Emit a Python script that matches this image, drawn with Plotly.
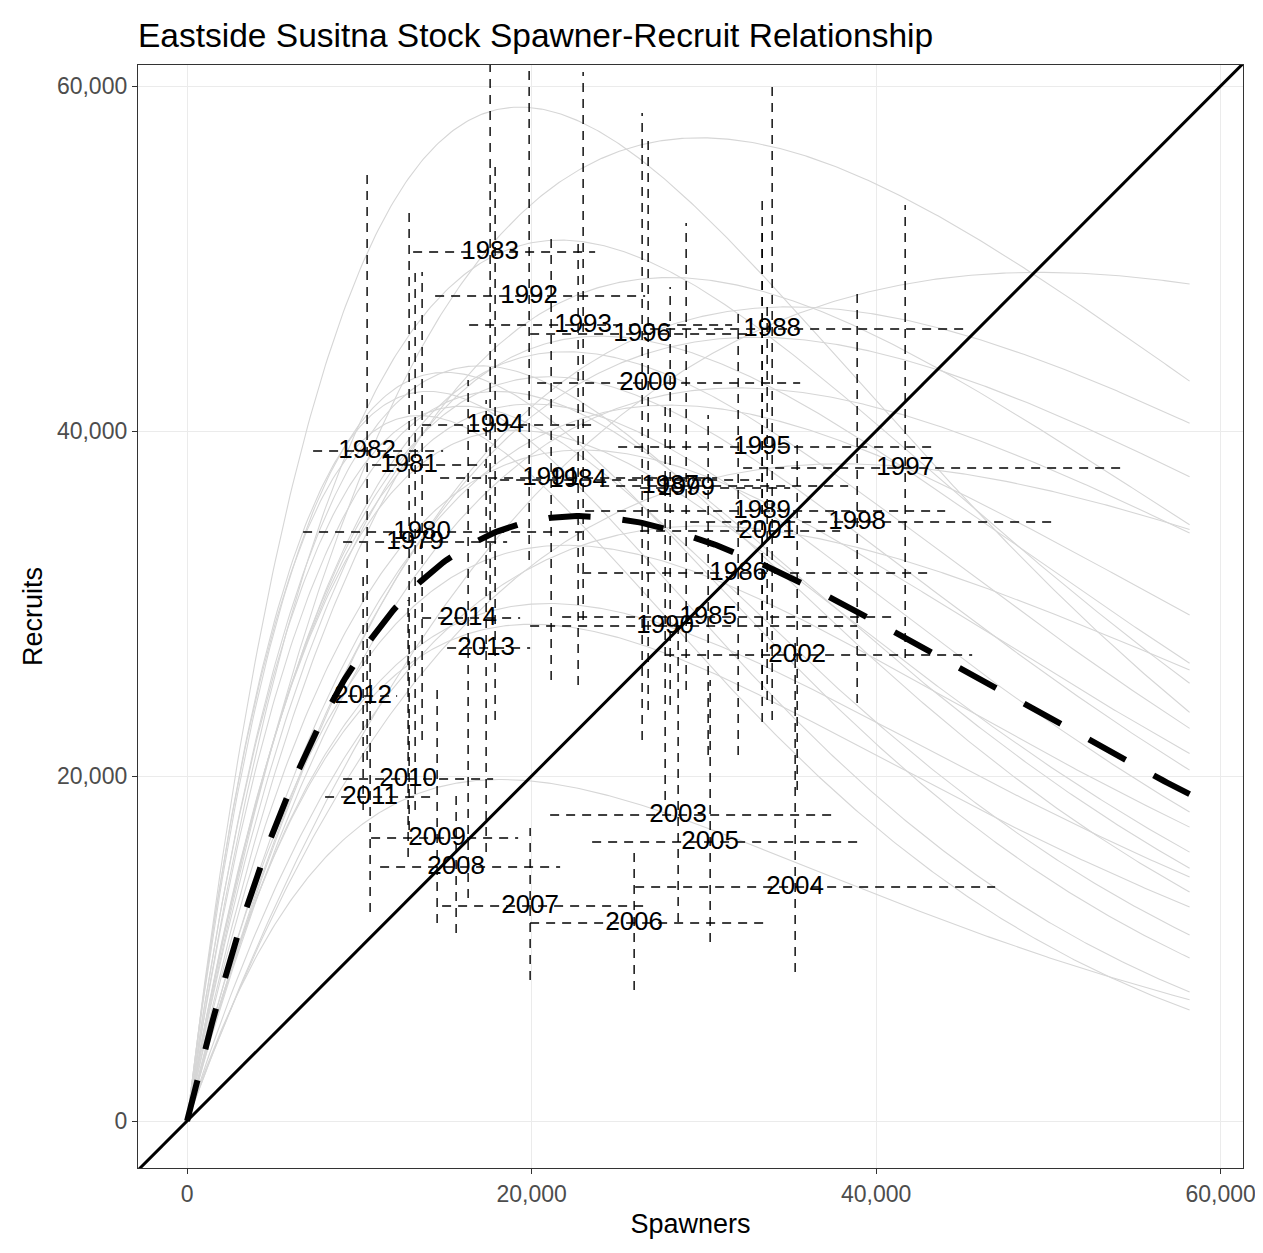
import numpy as np
import plotly.graph_objects as go

# ---------------- data ----------------
years = [1979, 1980, 1981, 1982, 1983, 1984, 1985, 1986, 1987, 1988, 1989, 1990,
         1991, 1992, 1993, 1994, 1995, 1996, 1997, 1998, 1999, 2000, 2001, 2002,
         2003, 2004, 2005, 2006, 2007, 2008, 2009, 2010, 2011, 2012, 2013, 2014]
spawners = [13238, 13644, 12889, 10451, 17592, 22701, 30249, 31991, 28043, 33965, 33385, 27753,
            21134, 19857, 22992, 17882, 33385, 26417, 41687, 38900, 28972, 26766, 33675, 35417,
            28507, 35300, 30365, 25953, 19915, 15618, 14515, 12831, 10625, 10219, 17360, 16315]
recruits = [33565, 34144, 38028, 38840, 50376, 37159, 29217, 31768, 36811, 45912, 35362, 28695,
            37275, 47825, 46144, 40347, 39072, 45622, 37854, 34724, 36695, 42782, 34202, 27014,
            17739, 13565, 16174, 11478, 12464, 14724, 16406, 19826, 18782, 24637, 27420, 29159]
spawners_lo = [9057, 6735, 10741, 7316, 13122, 18173, 21773, 22934, 23979, 26882, 23108, 19915,
               14689, 14399, 16373, 13644, 25024, 19915, 32281, 29204, 26301, 20321, 26301, 27753,
               21076, 26011, 23514, 19915, 14805, 11206, 10683, 9057, 8012, 8419, 15096, 13644]
spawners_hi = [18579, 22934, 17302, 14863, 23688, 33268, 40990, 42964, 38378, 45345, 44009, 38900,
               30772, 26591, 31643, 23572, 43313, 32514, 54576, 50280, 35010, 35591, 37913, 45577,
               37449, 46912, 39191, 33733, 26591, 21656, 19218, 17766, 14109, 12193, 19915, 19334]
recruits_lo = [18029, 22087, 16869, 20927, 30202, 25275, 21217, 21217, 24116, 23246, 23130, 18608,
               25565, 32521, 29043, 23246, 24985, 22087, 26840, 24231, 24985, 23826, 24405, 19188,
               11536, 8638, 10377, 7594, 8174, 10898, 11478, 15304, 12116, 18029, 15594, 12927]
recruits_hi = [49448, 49217, 52637, 54898, 63000, 51072, 40927, 47014, 48347, 60115, 51651, 41796,
               51419, 63000, 60811, 55419, 53680, 58434, 53101, 47999, 52057, 57158, 47593, 39478,
               29043, 27884, 25565, 15710, 16985, 19014, 24985, 30202, 27304, 31941, 41796, 42956]

# posterior Ricker curves: spawners at max recruitment, max recruitment
curve_smax = [19330, 29780, 49500, 21650, 35000, 33000, 28000, 32000, 38000, 28000, 24000,
              30000, 22000, 23000, 21000, 20000, 22000, 19000, 18000, 21000, 17000, 20000,
              16000, 15000, 14000, 13500, 18200]
curve_rmax = [58780, 57000, 49200, 51070, 47200, 45440, 48900, 42500, 38100, 41500, 45500,
              34500, 44600, 38900, 43150, 41570, 33380, 40050, 42300, 30000, 43780, 28800,
              41440, 43400, 42300, 40900, 19800]
median_smax = 22800
median_rmax = 35070
spawner_max = 58200

x_range = [-2850, 61300]
y_range = [-2725, 61220]
tick_vals = [0, 20000, 40000, 60000]

# ---------------- figure ----------------
FONT = "Liberation Sans, Arial, sans-serif"
fig = go.Figure()

s_grid = np.linspace(0, spawner_max, 400)


def ricker(s, smax, rmax):
    return rmax * (s / smax) * np.exp(1 - s / smax)


for sm, rm in zip(curve_smax, curve_rmax):
    fig.add_trace(go.Scatter(x=s_grid, y=ricker(s_grid, sm, rm), mode="lines",
                             line=dict(color="#d6d6d6", width=1.1),
                             hoverinfo="skip", showlegend=False))

fig.add_trace(go.Scatter(x=s_grid, y=ricker(s_grid, median_smax, median_rmax), mode="lines",
                         line=dict(color="black", width=6, dash="42px,32px"),
                         hoverinfo="skip", showlegend=False))

fig.add_trace(go.Scatter(x=[x_range[0], x_range[1]], y=[x_range[0], x_range[1]], mode="lines",
                         line=dict(color="black", width=3),
                         hoverinfo="skip", showlegend=False))

hx, hy, vx, vy = [], [], [], []
for s, r, sl, sh, rl, rh in zip(spawners, recruits, spawners_lo, spawners_hi,
                                recruits_lo, recruits_hi):
    hx += [sl, sh, None]
    hy += [r, r, None]
    vx += [s, s, None]
    vy += [rl, rh, None]

fig.add_trace(go.Scatter(x=hx, y=hy, mode="lines",
                         line=dict(color="black", width=1.4, dash="9px,7px"),
                         hoverinfo="skip", showlegend=False, connectgaps=False))
fig.add_trace(go.Scatter(x=vx, y=vy, mode="lines",
                         line=dict(color="black", width=1.4, dash="9px,7px"),
                         hoverinfo="skip", showlegend=False, connectgaps=False))

fig.add_trace(go.Scatter(x=spawners, y=recruits, mode="text",
                         text=[str(y) for y in years], textposition="middle center",
                         textfont=dict(family=FONT, size=26, color="black"),
                         hoverinfo="skip", showlegend=False))

axis_common = dict(
    showgrid=True, gridcolor="#ebebeb", gridwidth=1.2, zeroline=False,
    showline=True, linecolor="#333333", linewidth=1.3, mirror=True,
    ticks="outside", ticklen=5, tickwidth=1.1, tickcolor="#333333",
    tickvals=tick_vals, tickformat=",d", automargin=False,
    tickfont=dict(family=FONT, size=23, color="#4d4d4d"),
)

# the page body adds an 8px offset, so the figure is sized/margined to compensate
fig.update_layout(
    width=1255, height=1245,
    margin=dict(l=130, r=20, t=57, b=85, pad=0),
    paper_bgcolor="white", plot_bgcolor="white",
    title=dict(text="Eastside Susitna Stock Spawner-Recruit Relationship",
               font=dict(family=FONT, size=33.5, color="black"),
               x=0, xref="paper", xanchor="left",
               y=1 - 27 / 1245, yref="container", yanchor="middle"),
    xaxis=dict(range=x_range, title=dict(text="Spawners", standoff=8,
                                         font=dict(family=FONT, size=27, color="black")),
               **axis_common),
    yaxis=dict(range=y_range, title=dict(text="Recruits", standoff=6,
                                         font=dict(family=FONT, size=27, color="black")),
               **axis_common),
)

fig.write_html("out.html")
